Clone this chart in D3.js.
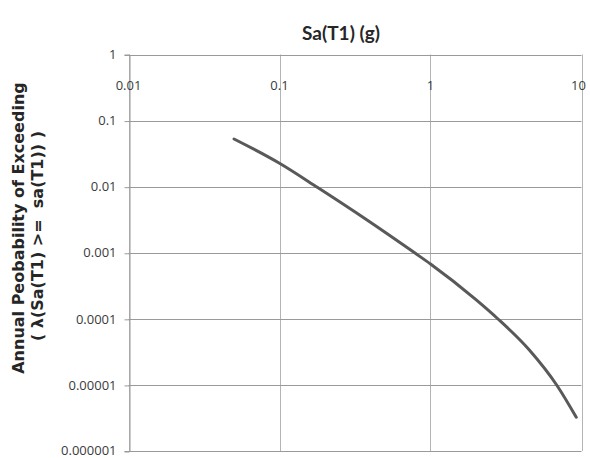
<!DOCTYPE html>
<html>
<head>
<meta charset="utf-8">
<script src="https://cdn.jsdelivr.net/npm/d3@7"></script>
<style>
  html, body { margin: 0; padding: 0; background: #fff; }
  svg { display: block; }
  .tick-label { font-family: "Open Sans", sans-serif; font-size: 13px; fill: #3a3a3a; }
  .y-title { font-family: "DejaVu Sans", sans-serif; font-weight: bold; font-size: 16px; fill: #262626; white-space: pre; }
</style>
</head>
<body>
<svg id="chart" width="590" height="458"></svg>
<script>
// Hazard curve: spectral acceleration Sa(T1) in g vs annual probability of exceedance
const saValues = [0.05, 0.1, 0.179, 0.38, 0.794, 1.0, 2.0, 2.8, 4.5, 6.9, 9.23];
const exceedProb = [0.0527, 0.0226, 0.0097, 0.00313, 0.00098, 0.000676, 0.000195, 0.0000994, 0.000034, 0.0000097, 0.00000324];

const xTicks = [0.01, 0.1, 1, 10];
const xTickLabels = ["0.01", "0.1", "1", "10"];
const yTicks = [1, 0.1, 0.01, 0.001, 0.0001, 0.00001, 0.000001];
const yTickLabels = ["1", "0.1", "0.01", "0.001", "0.0001", "0.00001", "0.000001"];

const xTitle = "Sa(T1) (g)";
const yTitleLines = ["Annual Peobability of Exceeding", "( \u03BB(Sa(T1) >=  sa(T1)) )"];

const svg = d3.select("#chart");
const margin = { left: 128.5, top: 54.5, right: 581.5, bottom: 451 };

const x = d3.scaleLog().domain([0.01, 10]).range([margin.left, margin.right]);
const y = d3.scaleLog().domain([1, 0.000001]).range([margin.top, margin.bottom]);

// Gridlines
const grid = svg.append("g");
grid.selectAll("line.v").data(xTicks).join("line")
  .attr("class", "v")
  .attr("x1", d => Math.round(x(d)) + 0.5).attr("x2", d => Math.round(x(d)) + 0.5)
  .attr("y1", margin.top).attr("y2", margin.bottom)
  .attr("stroke", "#b4b4b4").attr("stroke-width", 1);
grid.selectAll("line.h").data(yTicks).join("line")
  .attr("class", "h")
  .attr("x1", margin.left).attr("x2", margin.right)
  .attr("y1", d => Math.round(y(d)) + 0.5).attr("y2", d => Math.round(y(d)) + 0.5)
  .attr("stroke", "#9a9a9a").attr("stroke-width", 1);

// Left axis with outward ticks
const yAxis = d3.axisLeft(y)
  .tickValues(yTicks)
  .tickFormat((d, i) => yTickLabels[i])
  .tickSize(5)
  .tickPadding(8);
const yAxisG = svg.append("g")
  .attr("transform", `translate(${Math.round(margin.left) + 0.5},0)`)
  .call(yAxis)
  .attr("font-family", null).attr("font-size", null);
yAxisG.select(".domain").attr("stroke", "#9a9a9a");
yAxisG.selectAll(".tick line").attr("stroke", "#9a9a9a")
  .attr("transform", "translate(0,0.5)");
yAxisG.selectAll(".tick text").attr("class", "tick-label").attr("fill", null)
  .attr("dy", d => d === 0.000001 ? "0.25em" : "0.32em");

// Horizontal axis labels sit just inside the top of the plot
svg.append("g").selectAll("text").data(xTicks).join("text")
  .attr("class", "tick-label")
  .attr("x", d => x(d) - (d === 10 ? 3 : 0))
  .attr("y", 90)
  .attr("text-anchor", "middle")
  .text((d, i) => xTickLabels[i]);

// Hazard curve
const pts = saValues.map((v, i) => [v, exceedProb[i]]);
const line = d3.line()
  .x(d => x(d[0]))
  .y(d => y(d[1]))
  .curve(d3.curveMonotoneX);
svg.append("path")
  .datum(pts)
  .attr("d", line)
  .attr("fill", "none")
  .attr("stroke", "#595959")
  .attr("stroke-width", 3)
  .attr("stroke-linecap", "round");

// Titles
svg.append("text")
  .attr("x", 341).attr("y", 40)
  .attr("text-anchor", "middle")
  .style("font-family", "Lato, sans-serif").style("font-weight", "bold")
  .style("font-size", "19px").style("fill", "#262626")
  .text(xTitle);

const yTitle = svg.append("text")
  .attr("class", "y-title")
  .attr("transform", "translate(24,228) rotate(-90)")
  .attr("text-anchor", "middle");
yTitle.selectAll("tspan").data(yTitleLines).join("tspan")
  .attr("x", (d, i) => i === 0 ? 0 : -8)
  .attr("dy", (d, i) => i === 0 ? 0 : 19)
  .text(d => d);
</script>
</body>
</html>
